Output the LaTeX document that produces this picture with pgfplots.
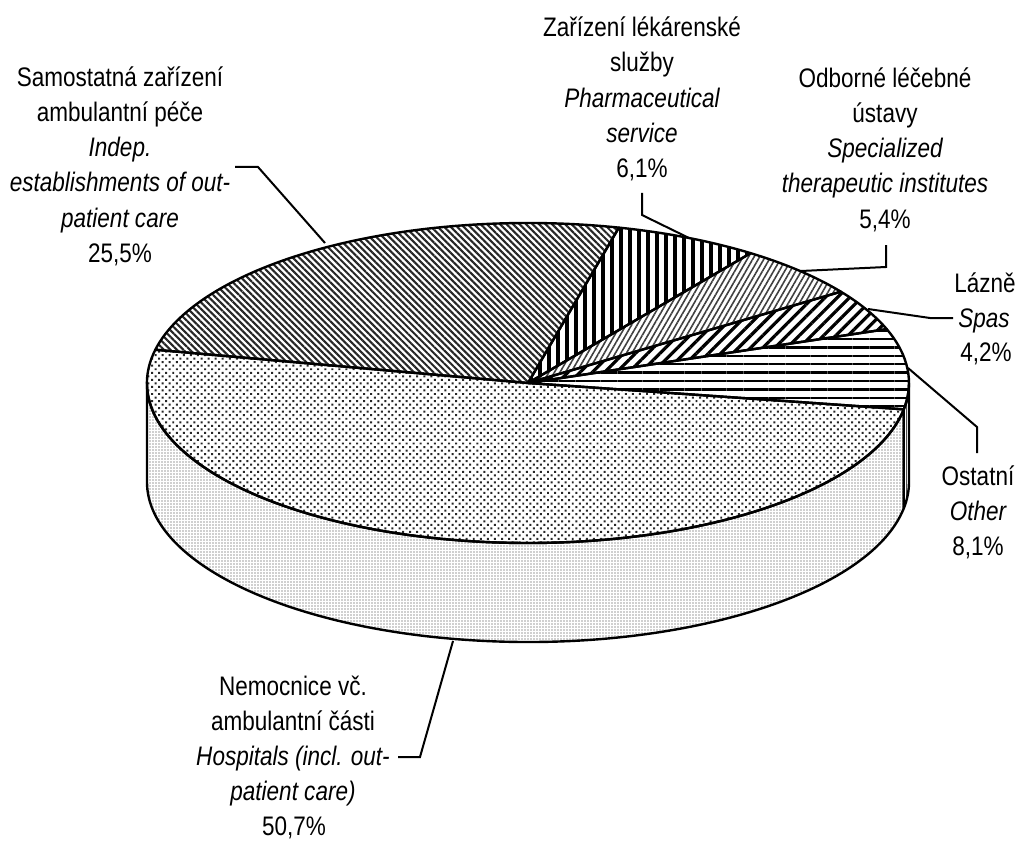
\documentclass[border=0pt]{standalone}
\usepackage{fontspec}
\setmainfont{Liberation Sans}[FakeStretch=0.84]
\usepackage{pgfplots}
\pgfplotsset{compat=1.18}
\usepackage{pgfplotstable}
\usetikzlibrary{patterns.meta}

\pgfplotstableread{
pct name
50.7 Hospitals
8.1 Other
4.2 Spas
5.4 Specialized
6.1 Pharmaceutical
25.5 Indep
}\piedata

\tikzset{
 slice0/.style={pattern={Dots[angle=45,distance=2.5pt,radius=0.7pt]},pattern color=black!85},
 slice1/.style={pattern={Lines[angle=0,distance=4.2pt,line width=1.2pt]},pattern color=black},
 slice2/.style={pattern={Lines[angle=45,distance=4.3pt,line width=1.6pt]},pattern color=black},
 slice3/.style={pattern={Lines[angle=60,distance=2.4pt,line width=0.8pt]},pattern color=black!75},
 slice4/.style={pattern={Lines[angle=90,distance=4.5pt,line width=2.2pt]},pattern color=black},
 slice5/.style={pattern={Lines[angle=-45,distance=2.3pt,line width=1.05pt]},pattern color=black!85},
 side0/.style={pattern={Dots[distance=1.5pt,radius=0.3pt]},pattern color=black!80},
 side1/.style={pattern={Lines[angle=90,distance=1.5pt,line width=0.4pt]},pattern color=black!70},
 edge/.style={draw=black,line width=1.2pt,line join=round},
 lead/.style={draw=black,line width=1pt},
}
\newcommand\lf{\fontsize{13.4pt}{17.5pt}\selectfont}
\newcommand\lbl[3]{\node[anchor=base,inner sep=0pt,font=\lf] at (axis cs:#1,#2) {#3};}

\begin{document}
\begin{tikzpicture}
\begin{axis}[x=0.5pt,y=0.5pt,xmin=0,xmax=1019,ymin=0,ymax=843,hide axis,clip=false]
\path (axis cs:0,0) rectangle (axis cs:1019,843);
\pgfplotsextra{
 % visible side of the cylinder
 \gdef\cum{168}
 \foreach \i in {0,...,5}{
  \pgfplotstablegetelem{\i}{pct}\of\piedata
  \pgfmathsetmacro\ts{\cum}
  \pgfmathsetmacro\te{\cum+3.6*\pgfplotsretval}
  \pgfmathsetmacro\ss{max(\ts,180)}
  \pgfmathsetmacro\se{min(\te,360)}
  \ifdim\se pt>\ss pt
   \filldraw[side\i,edge] (axis cs:528,460) ++(\ss:190.5pt and 80pt)
     arc[start angle=\ss,end angle=\se,x radius=190.5pt,y radius=80pt]
     -- ++(0,-49.5pt)
     arc[start angle=\se,end angle=\ss,x radius=190.5pt,y radius=80pt] -- cycle;
  \fi
  \xdef\cum{\te}
 }
 % top face wedges
 \gdef\cum{168}
 \foreach \i in {0,...,5}{
  \pgfplotstablegetelem{\i}{pct}\of\piedata
  \pgfmathsetmacro\ts{\cum}
  \pgfmathsetmacro\te{\cum+3.6*\pgfplotsretval}
  \filldraw[slice\i,edge] (axis cs:528,460) -- ++(\ts:190.5pt and 80pt)
     arc[start angle=\ts,end angle=\te,x radius=190.5pt,y radius=80pt] -- cycle;
  \xdef\cum{\te}
 }
}
% leader lines
\draw[lead] (axis cs:235,676) -- (axis cs:258,676) -- (axis cs:325,600);
\draw[lead] (axis cs:642,650) -- (axis cs:642,628) -- (axis cs:689,605);
\draw[lead] (axis cs:886,598) -- (axis cs:886,576) -- (axis cs:801,572);
\draw[lead] (axis cs:868,534) -- (axis cs:930,525) -- (axis cs:953,525);
\draw[lead] (axis cs:908,475) -- (axis cs:977,416) -- (axis cs:977,390);
\draw[lead] (axis cs:453,202) -- (axis cs:420,86) -- (axis cs:398,86);
% labels
\lbl{120}{756}{Samostatná zařízení}
\lbl{120}{721}{ambulantní péče}
\lbl{120}{686}{\itshape Indep.}
\lbl{120}{651}{\itshape establishments of out-}
\lbl{120}{616}{\itshape patient care}
\lbl{120}{581}{25,5\%}
\lbl{642}{806}{Zařízení lékárenské}
\lbl{642}{771}{služby}
\lbl{642}{735}{\itshape Pharmaceutical}
\lbl{642}{700}{\itshape service}
\lbl{642}{665}{6,1\%}
\lbl{885}{755}{Odborné léčebné}
\lbl{885}{720}{ústavy}
\lbl{885}{685}{\itshape Specialized}
\lbl{885}{650}{\itshape therapeutic institutes}
\lbl{885}{615}{5,4\%}
\lbl{985}{551}{Lázně}
\lbl{984}{516}{\itshape Spas}
\lbl{986}{481}{4,2\%}
\lbl{978}{358}{Ostatní}
\lbl{978}{323}{\itshape Other}
\lbl{978}{288}{8,1\%}
\lbl{293}{148}{Nemocnice vč.}
\lbl{293}{113}{ambulantní části}
\lbl{293}{78}{\itshape Hospitals (incl. out-}
\lbl{293}{43}{\itshape patient care)}
\lbl{294}{8}{50,7\%}
\end{axis}
\end{tikzpicture}
\end{document}
